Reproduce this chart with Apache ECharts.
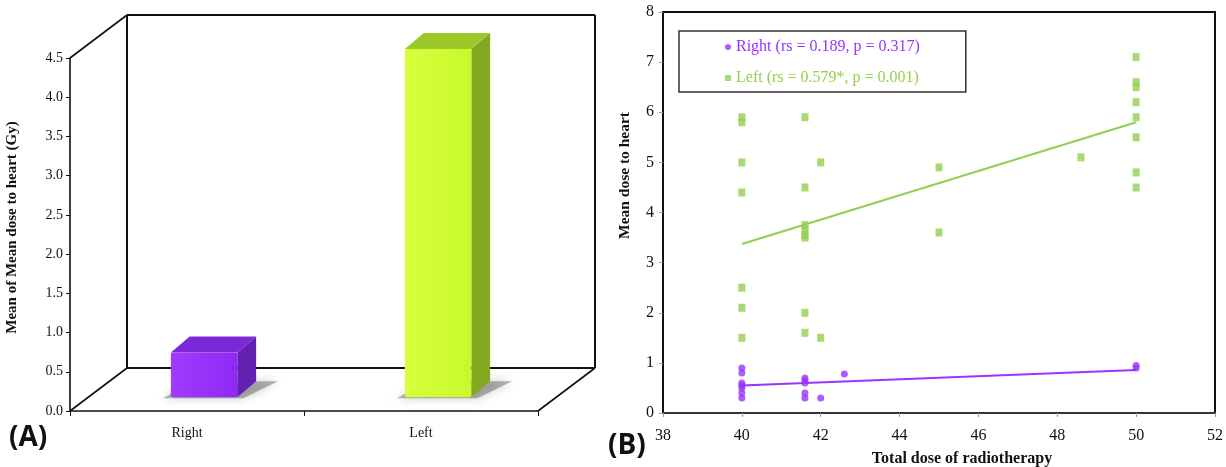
<!DOCTYPE html>
<html>
<head>
<meta charset="utf-8">
<script src="https://cdn.jsdelivr.net/npm/echarts@6/dist/echarts.min.js"></script>
<style>
html,body{margin:0;padding:0;background:#fff;}
#main{width:1226px;height:467px;}
</style>
</head>
<body>
<div id="main"></div>
<script>
// ---------- Panel A data ----------
const categoriesA = ['Right', 'Left'];
const meanDoseA = [0.57, 4.44];
const yTicksA = [0, 0.5, 1, 1.5, 2, 2.5, 3, 3.5, 4, 4.5];

// ---------- Panel B data ----------
const rightPoints = [
  [40, 0.9], [40, 0.8], [40, 0.6], [40, 0.55], [40, 0.5], [40, 0.4], [40, 0.3],
  [41.6, 0.7], [41.6, 0.65], [41.6, 0.6], [41.6, 0.4], [41.6, 0.3],
  [42, 0.3], [42.6, 0.78], [50, 0.95], [50, 0.9]
];
const leftPoints = [
  [40, 5.9], [40, 5.8], [40, 5.0], [40, 4.4], [40, 2.5], [40, 2.1], [40, 1.5],
  [41.6, 5.9], [41.6, 4.5], [41.6, 3.75], [41.6, 3.65], [41.6, 3.55], [41.6, 3.5], [41.6, 2.0], [41.6, 1.6],
  [42, 5.0], [42, 1.5], [45, 4.9], [45, 3.6], [48.6, 5.1],
  [50, 7.1], [50, 6.6], [50, 6.5], [50, 6.2], [50, 5.9], [50, 5.5], [50, 4.8], [50, 4.5]
];
const rightTrend = [[40, 0.55], [50, 0.86]];
const leftTrend = [[40, 3.37], [50, 5.8]];
const legendNames = ['Right (rs = 0.189, p = 0.317)', 'Left (rs = 0.579*, p = 0.001)'];

// ---------- style ----------
const PURPLE = '#9933ff';
const GREEN = '#92d050';
const barStyles = [
  { front: ['#a03cff', '#9028f5'], top: '#7c28d8', side: '#6420b0' },
  { front: ['#d6ff3c', '#c8f82c'], top: '#9cc82a', side: '#84a820' }
];
const DX = 57, DY = -43; // depth of the 3D box in pixels
const SERIF = '"Liberation Serif","DejaVu Serif",serif';

const chart = echarts.init(document.getElementById('main'), null, { renderer: 'canvas' });

function frameRender(params, api) {
  const cs = params.coordSys;
  const x0 = cs.x, x1 = cs.x + cs.width, y0 = cs.y, y1 = cs.y + cs.height;
  const ls = { stroke: '#111', lineWidth: 1.6, fill: null };
  const line = (a, b, c, d, w) => ({ type: 'line', shape: { x1: a, y1: b, x2: c, y2: d }, style: Object.assign({}, ls, { lineWidth: w || 1.6 }), silent: true });
  return {
    type: 'group',
    children: [
      { type: 'polygon', shape: { points: [[x0 + DX, y0 + DY], [x1 + DX, y0 + DY], [x1 + DX, y1 + DY], [x0 + DX, y1 + DY]] }, style: { fill: '#fff' }, silent: true },
      line(x0 + DX, y0 + DY, x1 + DX, y0 + DY, 2),
      line(x0 + DX, y0 + DY, x0 + DX, y1 + DY, 2),
      line(x1 + DX, y0 + DY, x1 + DX, y1 + DY, 2),
      line(x0 + DX, y1 + DY, x1 + DX, y1 + DY, 2),
      line(x0, y0, x0 + DX, y0 + DY),
      line(x0, y1, x0 + DX, y1 + DY),
      line(x1, y1, x1 + DX, y1 + DY)
    ]
  };
}

function barRender(params, api) {
  const i = api.value(0), v = api.value(1);
  const base = api.coord([i, 0]);
  const top = api.coord([i, v]);
  const bw = api.size([1, 0])[0];
  const hw = bw * 0.142;
  const fx = DX * 0.3, fy = DY * 0.32;
  const bdx = DX * 0.33, bdy = DY * 0.37;
  const x0 = base[0] + fx - hw, x1 = base[0] + fx + hw;
  const yb = base[1] + fy, yt = top[1] + fy;
  const st = barStyles[params.dataIndex];
  return {
    type: 'group',
    children: [
      { type: 'polygon', shape: { points: [[x0 - 8, yb + 1], [x1 + 6, yb + 1], [x1 + bdx + 22, yb + bdy], [x0 + bdx + 4, yb + bdy]] },
        style: { fill: 'rgba(90,90,90,0.45)', shadowBlur: 10, shadowColor: 'rgba(0,0,0,0.45)' }, silent: true },
      { type: 'polygon', shape: { points: [[x1, yt], [x1 + bdx, yt + bdy], [x1 + bdx, yb + bdy], [x1, yb]] }, style: { fill: st.side } },
      { type: 'polygon', shape: { points: [[x0, yt], [x1, yt], [x1 + bdx, yt + bdy], [x0 + bdx, yt + bdy]] }, style: { fill: st.top } },
      { type: 'rect', shape: { x: x0, y: yt, width: x1 - x0, height: yb - yt, r: 2 },
        style: { fill: new echarts.graphic.LinearGradient(0, 0, 1, 0, [{ offset: 0, color: st.front[0] }, { offset: 1, color: st.front[1] }]) } }
    ]
  };
}

const option = {
  backgroundColor: '#fff',
  animation: false,
  grid: [
    { left: 70, top: 58, width: 468, height: 353, outerBoundsMode: 'none', containLabel: false },
    { left: 663, top: 12, width: 552, height: 401, outerBoundsMode: 'none', containLabel: false,
      show: true, borderColor: '#111', borderWidth: 2, backgroundColor: 'transparent' }
  ],
  xAxis: [
    {
      gridIndex: 0, type: 'category', data: categoriesA,
      axisLine: { lineStyle: { color: '#111', width: 1.6 } },
      axisTick: { show: true, length: 5, lineStyle: { color: '#111' } },
      axisLabel: { fontFamily: SERIF, fontSize: 14, color: '#111', margin: 15 }
    },
    {
      gridIndex: 1, type: 'value', min: 38, max: 52, interval: 2,
      name: 'Total dose of radiotherapy', nameLocation: 'middle', nameGap: 38,
      nameTextStyle: { fontFamily: SERIF, fontWeight: 'bold', fontSize: 16, color: '#111', padding: [0, 0, 0, 46] },
      axisLine: { lineStyle: { color: '#333', width: 2 } },
      axisTick: { show: true, length: 4, lineStyle: { color: '#999' } },
      axisLabel: { fontFamily: SERIF, fontSize: 16, color: '#111', margin: 15 },
      splitLine: { show: false }
    }
  ],
  yAxis: [
    {
      gridIndex: 0, type: 'value', min: 0, max: 4.5, interval: 0.5,
      name: 'Mean of Mean dose to heart (Gy)', nameLocation: 'middle', nameGap: 50,
      nameTextStyle: { fontFamily: SERIF, fontWeight: 'bold', fontSize: 15, color: '#111', padding: [0, 0, 0, 14] },
      axisLine: { show: true, lineStyle: { color: '#111', width: 1.6 } },
      axisTick: { show: true, length: 4, lineStyle: { color: '#111' } },
      axisLabel: { fontFamily: SERIF, fontSize: 14, color: '#111', margin: 7, formatter: v => v.toFixed(1) },
      splitLine: { show: false }
    },
    {
      gridIndex: 1, type: 'value', min: 0, max: 8, interval: 1,
      name: 'Mean dose to heart', nameLocation: 'middle', nameGap: 30,
      nameTextStyle: { fontFamily: SERIF, fontWeight: 'bold', fontSize: 15.5, color: '#111', padding: [0, 0, 0, 74] },
      axisLine: { show: true, lineStyle: { color: '#111', width: 2 } },
      axisTick: { show: true, length: 4, lineStyle: { color: '#999' } },
      axisLabel: { fontFamily: SERIF, fontSize: 16, color: '#111', margin: 9 },
      splitLine: { show: false }
    }
  ],
  legend: {
    orient: 'vertical', left: 679, top: 31,
    padding: [8, 46, 6, 46],
    itemWidth: 6, itemHeight: 6, itemGap: 15,
    backgroundColor: '#fff', borderColor: '#333', borderWidth: 1.5,
    textStyle: { fontFamily: SERIF, fontSize: 16, lineHeight: 16 },
    data: [
      { name: legendNames[0], icon: 'circle', textStyle: { color: PURPLE } },
      { name: legendNames[1], icon: 'rect', textStyle: { color: GREEN } }
    ]
  },
  graphic: [
    { type: 'text', left: 9, top: 424, style: { text: '(A)', font: 'bold 28px "Open Sans","Liberation Sans",sans-serif', fill: '#111' } },
    { type: 'text', left: 608, top: 432, style: { text: '(B)', font: 'bold 28px "Open Sans","Liberation Sans",sans-serif', fill: '#111' } }
  ],
  series: [
    { type: 'custom', xAxisIndex: 0, yAxisIndex: 0, data: [[0, 0]], renderItem: frameRender, z: 1, silent: true },
    { type: 'custom', xAxisIndex: 0, yAxisIndex: 0, data: categoriesA.map((c, i) => [i, meanDoseA[i]]), renderItem: barRender, z: 5 },
    { name: legendNames[1], type: 'scatter', xAxisIndex: 1, yAxisIndex: 1, data: leftPoints, symbol: 'rect', symbolSize: [7, 8], itemStyle: { color: GREEN }, z: 3 },
    { name: legendNames[0], type: 'scatter', xAxisIndex: 1, yAxisIndex: 1, data: rightPoints, symbol: 'circle', symbolSize: 7, itemStyle: { color: PURPLE }, z: 3 },
    { type: 'line', xAxisIndex: 1, yAxisIndex: 1, data: leftTrend, showSymbol: false, lineStyle: { color: GREEN, width: 2 }, z: 4 },
    { type: 'line', xAxisIndex: 1, yAxisIndex: 1, data: rightTrend, showSymbol: false, lineStyle: { color: PURPLE, width: 2 }, z: 4 }
  ]
};
chart.setOption(option);
</script>
</body>
</html>
